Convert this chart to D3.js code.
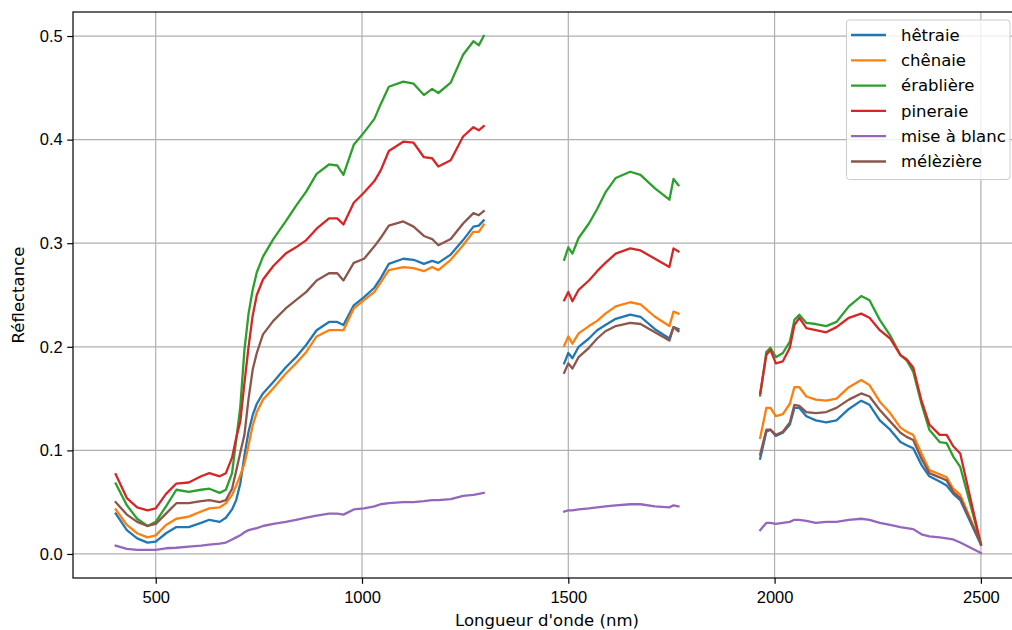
<!DOCTYPE html>
<html>
<head>
<meta charset="utf-8">
<script src="https://cdn.jsdelivr.net/npm/d3@7"></script>
<style>
  body { margin: 0; background: #fff; }
  svg { display: block; font-family: "DejaVu Sans", sans-serif; }
  .grid line { stroke: #b0b0b0; stroke-width: 1.2; }
  .tick text { font-size: 16.5px; fill: #000; }
</style>
</head>
<body>
<svg id="chart" width="1012" height="630"></svg>
<script>
// wavelengths (nm); null marks the removed water absorption bands
const wavelengths = [
  403, 430, 455, 480, 500, 525, 550, 580, 610, 630, 655, 670, 685, 695, 705, 715, 725, 735, 745, 760,
  785, 815, 840, 865, 890, 920, 940, 955, 980, 1005, 1030, 1045, 1065, 1100, 1125, 1150, 1170, 1185,
  1215, 1245, 1270, 1283, 1295,
  null,
  1490, 1500, 1510, 1525, 1550, 1570, 1590, 1615, 1650, 1675, 1710, 1745, 1755, 1767,
  null,
  1965, 1980, 1990, 2003, 2020, 2037, 2048, 2060, 2077, 2100, 2125, 2150, 2180, 2210, 2230, 2255,
  2280, 2305, 2320, 2336, 2356, 2375, 2400, 2417, 2433, 2450, 2500
];

const hetraie = [
  0.039, 0.023, 0.015, 0.011, 0.012, 0.020, 0.026, 0.026, 0.030, 0.033, 0.031, 0.035, 0.043, 0.052, 0.068, 0.095, 0.118, 0.134, 0.145, 0.155,
  0.166, 0.180, 0.190, 0.202, 0.216, 0.224, 0.224, 0.221, 0.240, 0.248, 0.257, 0.266, 0.280, 0.285, 0.284, 0.280, 0.283, 0.281,
  0.289, 0.303, 0.316, 0.317, 0.322,
  null,
  0.184, 0.194, 0.189, 0.200, 0.208, 0.216, 0.221, 0.227, 0.231, 0.229, 0.217, 0.208, 0.219, 0.217,
  null,
  0.092, 0.118, 0.120, 0.114, 0.117, 0.125, 0.141, 0.141, 0.133, 0.129, 0.127, 0.129, 0.140, 0.148, 0.144, 0.129,
  0.120, 0.108, 0.105, 0.102, 0.086, 0.075, 0.070, 0.066, 0.058, 0.052, 0.009
];

const chenaie = [
  0.043, 0.028, 0.020, 0.016, 0.018, 0.028, 0.034, 0.036, 0.041, 0.044, 0.045, 0.049, 0.057, 0.066, 0.076, 0.087, 0.105, 0.124, 0.137, 0.149,
  0.160, 0.174, 0.184, 0.195, 0.210, 0.216, 0.216, 0.216, 0.237, 0.245, 0.253, 0.262, 0.274, 0.277, 0.276, 0.273, 0.277, 0.274,
  0.284, 0.298, 0.311, 0.311, 0.318,
  null,
  0.201, 0.210, 0.203, 0.213, 0.220, 0.225, 0.232, 0.239, 0.243, 0.241, 0.229, 0.220, 0.234, 0.232,
  null,
  0.112, 0.141, 0.141, 0.133, 0.135, 0.145, 0.161, 0.161, 0.152, 0.149, 0.148, 0.150, 0.161, 0.168, 0.163, 0.147,
  0.136, 0.122, 0.118, 0.115, 0.097, 0.081, 0.077, 0.074, 0.063, 0.057, 0.010
];

const erabliere = [
  0.068, 0.047, 0.034, 0.027, 0.031, 0.046, 0.062, 0.060, 0.062, 0.063, 0.059, 0.062, 0.078, 0.110, 0.142, 0.197, 0.232, 0.255, 0.272, 0.287,
  0.304, 0.321, 0.336, 0.350, 0.367, 0.376, 0.375, 0.366, 0.395, 0.407, 0.420, 0.434, 0.451, 0.456, 0.454, 0.443, 0.449, 0.445,
  0.455, 0.482, 0.495, 0.491, 0.500,
  null,
  0.284, 0.296, 0.290, 0.305, 0.319, 0.333, 0.349, 0.363, 0.369, 0.366, 0.353, 0.342, 0.362, 0.356,
  null,
  0.153, 0.195, 0.199, 0.190, 0.194, 0.205, 0.226, 0.231, 0.223, 0.222, 0.220, 0.224, 0.239, 0.249, 0.245, 0.226,
  0.211, 0.192, 0.187, 0.176, 0.145, 0.120, 0.108, 0.107, 0.094, 0.084, 0.010
];

const pineraie = [
  0.077, 0.054, 0.045, 0.042, 0.044, 0.058, 0.068, 0.069, 0.075, 0.078, 0.075, 0.078, 0.093, 0.112, 0.128, 0.165, 0.200, 0.230, 0.250, 0.265,
  0.278, 0.290, 0.296, 0.303, 0.314, 0.324, 0.324, 0.318, 0.339, 0.349, 0.360, 0.370, 0.389, 0.398, 0.397, 0.383, 0.382, 0.374,
  0.380, 0.403, 0.412, 0.409, 0.413,
  null,
  0.245, 0.253, 0.244, 0.255, 0.264, 0.273, 0.281, 0.290, 0.295, 0.293, 0.285, 0.277, 0.295, 0.292,
  null,
  0.155, 0.192, 0.197, 0.184, 0.186, 0.199, 0.221, 0.228, 0.218, 0.216, 0.214, 0.219, 0.228, 0.232, 0.228, 0.216,
  0.208, 0.192, 0.188, 0.180, 0.148, 0.125, 0.115, 0.115, 0.104, 0.097, 0.009
];

const miseABlanc = [
  0.008, 0.005, 0.004, 0.004, 0.004, 0.0055, 0.006, 0.007, 0.008, 0.009, 0.010, 0.011, 0.014, 0.016, 0.018, 0.021, 0.023, 0.024, 0.025, 0.027,
  0.029, 0.031, 0.033, 0.035, 0.037, 0.039, 0.039, 0.038, 0.043, 0.044, 0.046, 0.048, 0.049, 0.050, 0.050, 0.051, 0.052, 0.052,
  0.053, 0.056, 0.057, 0.058, 0.059,
  null,
  0.041, 0.042, 0.042, 0.043, 0.044, 0.045, 0.046, 0.047, 0.048, 0.048, 0.046, 0.045, 0.047, 0.046,
  null,
  0.023, 0.030, 0.030, 0.029, 0.030, 0.031, 0.033, 0.033, 0.032, 0.030, 0.031, 0.031, 0.033, 0.034, 0.033, 0.030,
  0.028, 0.026, 0.025, 0.024, 0.019, 0.017, 0.016, 0.015, 0.014, 0.011, 0.001
];

const melezière = [
  0.050, 0.038, 0.031, 0.027, 0.029, 0.039, 0.049, 0.049, 0.051, 0.052, 0.050, 0.052, 0.063, 0.080, 0.098, 0.115, 0.150, 0.178, 0.194, 0.212,
  0.225, 0.237, 0.245, 0.253, 0.264, 0.271, 0.271, 0.264, 0.281, 0.285, 0.297, 0.305, 0.317, 0.321, 0.316, 0.307, 0.304, 0.298,
  0.304, 0.319, 0.329, 0.327, 0.331,
  null,
  0.175, 0.184, 0.179, 0.190, 0.199, 0.208, 0.215, 0.220, 0.223, 0.222, 0.214, 0.206, 0.219, 0.215,
  null,
  0.096, 0.120, 0.120, 0.115, 0.118, 0.127, 0.144, 0.143, 0.137, 0.136, 0.137, 0.141, 0.149, 0.155, 0.152, 0.139,
  0.128, 0.117, 0.113, 0.110, 0.092, 0.078, 0.074, 0.071, 0.060, 0.054, 0.010
];

const seriesNames  = ["hêtraie", "chênaie", "érablière", "pineraie", "mise à blanc", "mélèzière"];
const seriesValues = [hetraie, chenaie, erabliere, pineraie, miseABlanc, melezière];
const seriesColors = ["#1f77b4", "#ff7f0e", "#2ca02c", "#d62728", "#9467bd", "#8c564b"];

const xTicks = [500, 1000, 1500, 2000, 2500];
const yTicks = [0.0, 0.1, 0.2, 0.3, 0.4, 0.5];

/* ---------- layout ---------- */
const svg = d3.select("#chart");
const plot = { left: 73, top: 12, right: 1024, bottom: 578 };
const fontPx = 16.5;

const x = d3.scaleLinear().domain([299.5, 2604.5]).range([plot.left, plot.right]);
const y = d3.scaleLinear().domain([-0.0232, 0.5232]).range([plot.bottom, plot.top]);

// grid
const grid = svg.append("g").attr("class", "grid");
grid.selectAll(".gx").data(xTicks).enter().append("line")
  .attr("x1", d => x(d)).attr("x2", d => x(d))
  .attr("y1", plot.top).attr("y2", plot.bottom);
grid.selectAll(".gy").data(yTicks).enter().append("line")
  .attr("x1", plot.left).attr("x2", plot.right)
  .attr("y1", d => y(d)).attr("y2", d => y(d));

// axes
const xAxis = svg.append("g")
  .attr("transform", `translate(0,${plot.bottom})`)
  .call(d3.axisBottom(x).tickValues(xTicks).tickFormat(d3.format("d")).tickSize(5.8).tickPadding(7.5));
const yAxis = svg.append("g")
  .attr("transform", `translate(${plot.left},0)`)
  .call(d3.axisLeft(y).tickValues(yTicks).tickFormat(d3.format(".1f")).tickSize(5.8).tickPadding(4.5));
[xAxis, yAxis].forEach(a => {
  a.select(".domain").remove();
  a.selectAll(".tick line").attr("stroke", "#000").attr("stroke-width", 1.2);
});

// lines
const line = d3.line()
  .defined(d => d.v != null)
  .x(d => x(d.w))
  .y(d => y(d.v));

svg.append("defs").append("clipPath").attr("id", "clip")
  .append("rect").attr("x", plot.left).attr("y", plot.top)
  .attr("width", plot.right - plot.left).attr("height", plot.bottom - plot.top);

svg.append("g").attr("clip-path", "url(#clip)")
  .selectAll("path")
  .data(seriesValues)
  .enter().append("path")
  .attr("fill", "none")
  .attr("stroke", (d, i) => seriesColors[i])
  .attr("stroke-width", 2.3)
  .attr("stroke-linejoin", "round")
  .attr("stroke-linecap", "square")
  .attr("d", vals => line(wavelengths.map((w, i) => ({ w, v: w == null ? null : vals[i] }))));

// frame
svg.append("rect")
  .attr("x", plot.left).attr("y", plot.top)
  .attr("width", plot.right - plot.left).attr("height", plot.bottom - plot.top)
  .attr("fill", "none").attr("stroke", "#000").attr("stroke-width", 1.2);

// axis labels
svg.append("text")
  .attr("x", 547).attr("y", 620).attr("dy", "0.35em")
  .attr("text-anchor", "middle").attr("font-size", fontPx)
  .text("Longueur d'onde (nm)");
svg.append("text")
  .attr("transform", `translate(18,${(plot.top + plot.bottom) / 2}) rotate(-90)`)
  .attr("dy", "0.35em")
  .attr("text-anchor", "middle").attr("font-size", fontPx)
  .text("Réflectance");

// legend
const legend = svg.append("g").attr("transform", "translate(846.5,20)");
legend.append("rect")
  .attr("width", 163.5).attr("height", 159.5).attr("rx", 3)
  .attr("fill", "#fff").attr("fill-opacity", 0.8)
  .attr("stroke", "#cccccc").attr("stroke-width", 1);
const item = legend.selectAll(".item").data(seriesNames).enter().append("g")
  .attr("transform", (d, i) => `translate(0,${15 + i * 25.3})`);
item.append("line")
  .attr("x1", 4.5).attr("x2", 39.5)
  .attr("stroke", (d, i) => seriesColors[i]).attr("stroke-width", 2.3);
item.append("text")
  .attr("x", 54.5).attr("dy", "0.35em").attr("font-size", fontPx)
  .text(d => d);
</script>
</body>
</html>
